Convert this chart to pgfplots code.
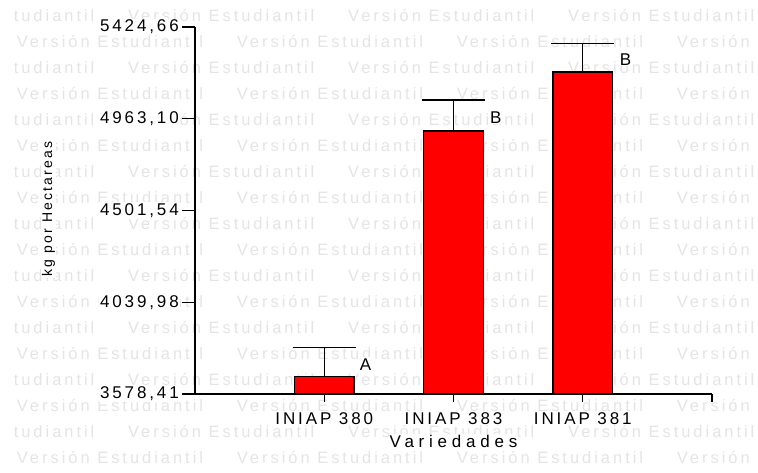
\documentclass[border=0pt]{standalone}
\usepackage{pgfplots}
\pgfplotsset{compat=1.18}
\usepackage{pgfplotstable}
\usepackage{fontspec}
\setmainfont{Liberation Sans}
\newfontfamily\wmfont[LetterSpace=18]{Liberation Sans}
\newfontfamily\labfont[LetterSpace=17]{Liberation Sans}
\newfontfamily\ylabfont[LetterSpace=16]{Liberation Sans}
\newfontfamily\xlabfont[LetterSpace=28]{Liberation Sans}
\definecolor{wm}{RGB}{228,228,228}
\definecolor{barred}{RGB}{255,0,0}

\pgfplotstableread{
x y err
1 3665.5 146
2 4901.6 156
3 5198.4 144
}\datatable

\begin{document}
\begin{tikzpicture}
\useasboundingbox (-195bp,-79bp) rectangle (563bp,394bp);
\begin{scope}
\clip (-181bp,-79bp) rectangle (563bp,394bp);
\foreach \n in {0,...,17} {
  \pgfmathsetmacro{\yy}{394-(21.5+26*\n)}
  \ifodd\n \def\xo{16.7}\else\def\xo{-92}\fi
  \foreach \k in {0,...,4} {
    \pgfmathsetmacro{\xx}{\xo+220*\k-195}
    \ifodd\n
      \ifnum\k=3
        \node[anchor=base west, inner sep=0pt, text=wm, font=\wmfont\fontsize{16.5bp}{16.5bp}\selectfont] at (\xx bp,\yy bp) {Versión};
      \else\ifnum\k<3
        \node[anchor=base west, inner sep=0pt, text=wm, font=\wmfont\fontsize{16.5bp}{16.5bp}\selectfont] at (\xx bp,\yy bp) {Versión Estudiantil};
      \fi\fi
    \else
      \node[anchor=base west, inner sep=0pt, text=wm, font=\wmfont\fontsize{16.5bp}{16.5bp}\selectfont] at (\xx bp,\yy bp) {Versión Estudiantil};
    \fi
  }
}
\end{scope}
\begin{axis}[
  at={(0,0)}, anchor=south west,
  scale only axis, width=517bp, height=367bp,
  xmin=0, xmax=4, ymin=3578.41, ymax=5424.66,
  axis x line=bottom, axis y line=left,
  axis line style={-, line width=1.3bp, black},
  clip mode=individual,
  ytick={3578.41,4039.98,4501.54,4963.10,5424.66},
  yticklabels={{3578,41},{4039,98},{4501,54},{4963,10},{5424,66}},
  xtick={1,2,3,4},
  xticklabels={INIAP 380,INIAP 383,INIAP 381,{}},
  tick align=outside,
  major tick length=13bp,
  tick style={black, line width=1.3bp},
  xtick style={/pgfplots/major tick length=8bp},
  minor tick num=0,
  yticklabel style={font=\labfont\fontsize{17bp}{20bp}\selectfont, fill=white, inner sep=1bp, anchor=east, xshift=-2bp},
  xticklabel style={font=\labfont\fontsize{17bp}{20bp}\selectfont, fill=white, inner sep=1bp, anchor=north, yshift=-4bp},
  xlabel={Variedades},
  ylabel={kg por Hectareas},
  x label style={at={(axis description cs:0.5,0)}, anchor=north, yshift=-40bp, inner sep=1bp, fill=white, font=\xlabfont\fontsize{17bp}{20bp}\selectfont},
  y label style={at={(axis description cs:-0.2832,0.504)}, anchor=center, inner sep=1bp, fill=white, font=\ylabfont\fontsize{14bp}{16bp}\selectfont},
]
\addplot[ybar, bar width=0.46, fill=barred, draw=black, line width=1.2bp,
  error bars/.cd, y dir=plus, y explicit,
  error bar style={line width=1.3bp, black},
  error mark options={rotate=90, mark size=31.5bp, line width=1.3bp, black}]
  table[x=x, y=y, y error=err] {\datatable};
\node[anchor=north west, inner sep=1bp, fill=white, xshift=3bp, yshift=-9.5bp, font=\fontsize{17bp}{20bp}\selectfont] at (axis cs:1.244,3811.3) {A};
\node[anchor=north west, inner sep=1bp, fill=white, xshift=4bp, yshift=-10.5bp, font=\fontsize{17bp}{20bp}\selectfont] at (axis cs:2.244,5057.5) {B};
\node[anchor=north west, inner sep=1bp, fill=white, xshift=4.5bp, yshift=-9bp, font=\fontsize{17bp}{20bp}\selectfont] at (axis cs:3.244,5342.8) {B};
\end{axis}
\end{tikzpicture}
\end{document}
